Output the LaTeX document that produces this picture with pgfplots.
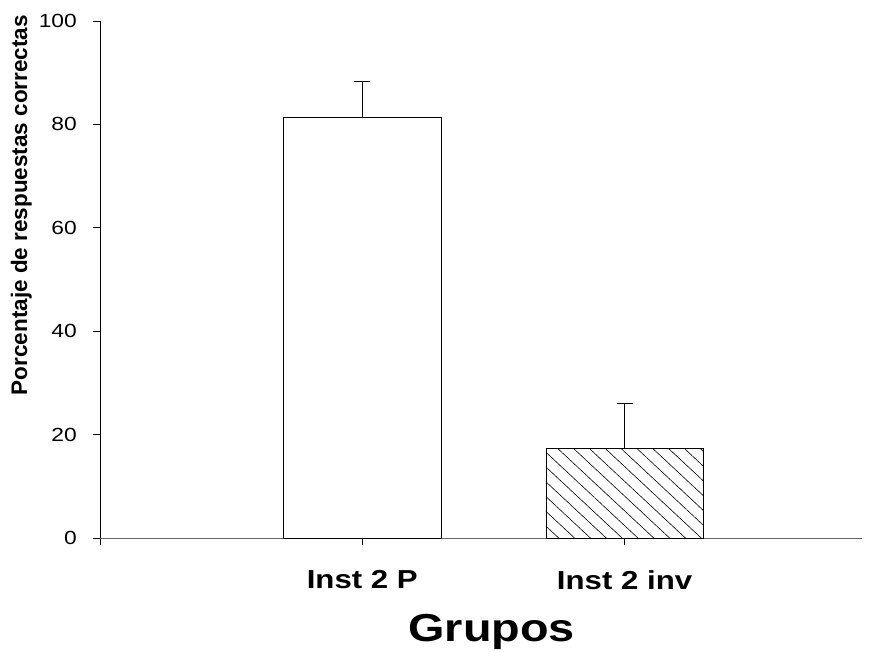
\documentclass[border=0pt]{standalone}
\usepackage{fontspec}
\setmainfont{Liberation Sans}[FakeStretch=1.2]
\newfontfamily\ylabfont{Liberation Sans}
\usepackage{pgfplots}
\pgfplotsset{compat=1.18}
\usetikzlibrary{patterns.meta}

\begin{document}
\begin{tikzpicture}
\begin{axis}[
    name=ax,
    scale only axis,
    width=762pt, height=517pt,
    ybar, bar width=0.6, bar shift=0pt,
    xmin=0, xmax=2.905, ymin=0, ymax=100,
    axis lines*=left,
    axis line style={-, line width=0.8pt},
    x axis line style={black!60},
    xtick={0,1,2},
    xticklabels={,Inst 2 P,Inst 2 inv},
    ytick={0,20,...,100},
    tick align=outside,
    major tick length=7pt,
    tick style={black, line width=0.8pt},
    /pgf/number format/assume math mode=true,
    yticklabel style={font=\fontsize{19}{20}\selectfont, inner sep=0pt, anchor=east, xshift=-16pt},
    xticklabel style={font=\bfseries\fontsize{26}{28}\selectfont, inner sep=0pt, anchor=north, yshift=-25pt},
    xlabel={Grupos},
    xlabel style={font=\bfseries\fontsize{39}{42}\selectfont, inner sep=0pt, anchor=north,
        at={(axis description cs:0.514,-0.148)}},
    ylabel={Porcentaje de respuestas correctas},
    ylabel style={font=\ylabfont\bfseries\fontsize{22.5}{24}\selectfont, inner sep=0pt, anchor=base,
        at={(axis description cs:-0.0958,0.644)}},
    clip=false,
    error bars/y dir=plus,
    error bars/y explicit,
    error bars/error mark=|,
    error bars/error bar style={black, line width=0.8pt},
    error bars/error mark options={black, line width=0.8pt, mark size=8pt},
]
\addplot[draw=black, fill=white, line width=0.8pt]
    coordinates {(1,81.3) +- (0,7.0)};
\addplot[draw=black, line width=0.8pt,
    pattern={Lines[angle=-43, distance=10.8pt, line width=0.6pt]}]
    coordinates {(2,17.4) +- (0,8.7)};
\end{axis}
\pgfresetboundingbox
\path ([xshift=-100pt,yshift=-114pt]ax.south west) rectangle ([xshift=17pt,yshift=21pt]ax.north east);
\end{tikzpicture}
\end{document}
